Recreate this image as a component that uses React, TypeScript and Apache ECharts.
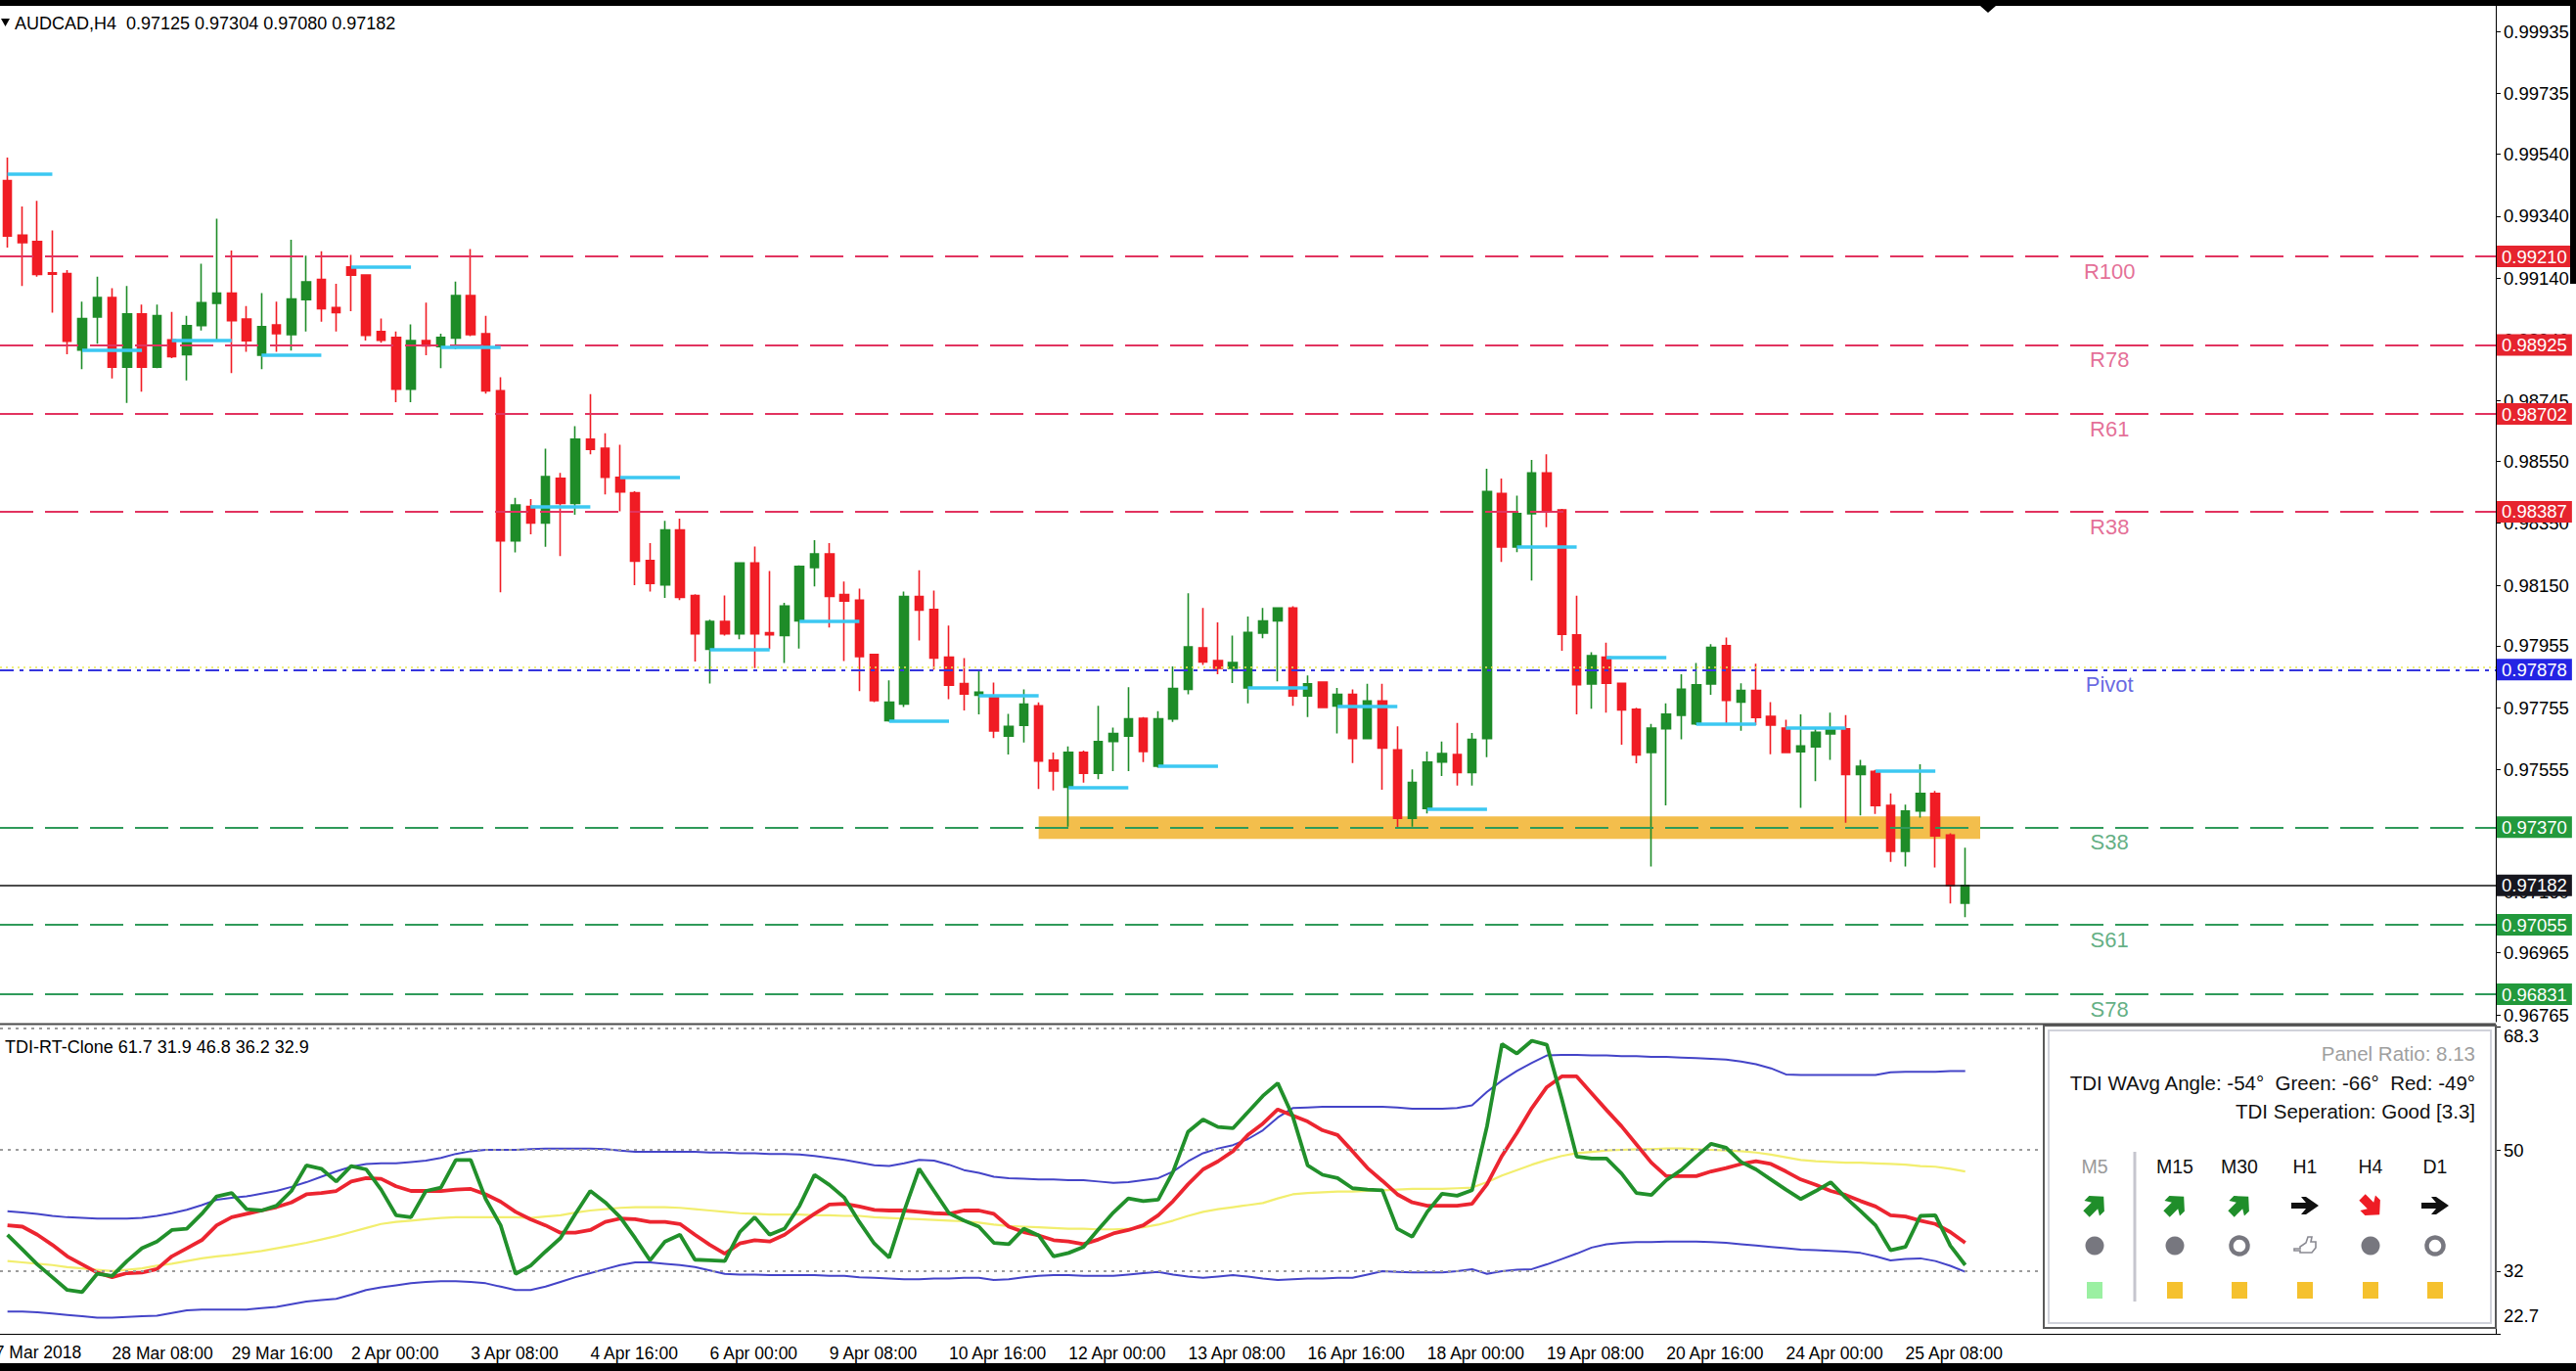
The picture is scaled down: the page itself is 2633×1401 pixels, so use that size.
import React, { useEffect, useRef } from "react";
import * as echarts from "echarts";

// ---------- price data (AUDCAD H4), candle 1..132 ----------
const opens = [0.99455,0.99279,0.99258,0.99157,0.99155,0.98908,0.99015,0.99078,0.98853,0.99025,
 0.98853,0.98941,0.98893,0.98987,0.99059,0.99092,0.99008,0.98892,0.98989,0.98958,
 0.99071,0.99136,0.99045,0.99176,0.99150,0.98968,0.98949,0.98782,0.98939,0.98919,
 0.98947,0.99084,0.98961,0.98777,0.98293,0.98404,0.98351,0.98495,0.98414,0.98621,
 0.98592,0.98498,0.98448,0.98230,0.98151,0.98328,0.98117,0.97944,0.98033,0.97993,
 0.98222,0.97997,0.97988,0.98035,0.98207,0.98251,0.98120,0.98102,0.97927,0.97713,
 0.97767,0.98114,0.98072,0.97918,0.97833,0.97795,0.97794,0.97664,0.97698,0.97761,
 0.97586,0.97499,0.97611,0.97544,0.97646,0.97664,0.97721,0.97567,0.97719,0.97814,
 0.97948,0.97907,0.97882,0.97819,0.97996,0.98035,0.98077,0.97793,0.97838,0.97761,
 0.97798,0.97656,0.97777,0.97619,0.97399,0.97430,0.97580,0.97604,0.97546,0.97656,
 0.98446,0.98273,0.98381,0.98512,0.98393,0.97990,0.97832,0.97918,0.97834,0.97750,
 0.97611,0.97687,0.97731,0.97703,0.97832,0.97955,0.97773,0.97811,0.97727,0.97689,
 0.97613,0.97629,0.97671,0.97687,0.97540,0.97550,0.97440,0.97292,0.97422,0.97479,
 0.97345,0.97125];
const highs = [0.99529,0.99371,0.99389,0.99294,0.99166,0.99064,0.99145,0.99108,0.99115,0.99055,
 0.99055,0.99031,0.99019,0.99187,0.99332,0.99229,0.99050,0.99092,0.99064,0.99264,
 0.99213,0.99227,0.99122,0.99215,0.99150,0.99010,0.98968,0.98991,0.99061,0.98961,
 0.99129,0.99234,0.99019,0.98821,0.98432,0.98428,0.98590,0.98512,0.98663,0.98766,
 0.98640,0.98603,0.98453,0.98286,0.98358,0.98365,0.98121,0.98039,0.98117,0.98222,
 0.98275,0.98196,0.98093,0.98214,0.98295,0.98286,0.98162,0.98139,0.97927,0.97843,
 0.98130,0.98198,0.98133,0.98020,0.97915,0.97875,0.97836,0.97735,0.97814,0.97772,
 0.97611,0.97630,0.97617,0.97761,0.97691,0.97821,0.97725,0.97744,0.97888,0.98124,
 0.98077,0.98030,0.97988,0.98049,0.98077,0.98077,0.98082,0.97859,0.97838,0.97819,
 0.97814,0.97832,0.97832,0.97695,0.97556,0.97614,0.97646,0.97706,0.97674,0.98526,
 0.98494,0.98439,0.98554,0.98572,0.98396,0.98116,0.97934,0.97965,0.97834,0.97755,
 0.97703,0.97769,0.97863,0.97899,0.97960,0.97981,0.97834,0.97897,0.97773,0.97716,
 0.97734,0.97692,0.97739,0.97731,0.97587,0.97555,0.97479,0.97443,0.97573,0.97487,
 0.97350,0.97304];
const lows = [0.99239,0.99115,0.99145,0.99029,0.98895,0.98847,0.98929,0.98817,0.98738,0.98774,
 0.98850,0.98882,0.98810,0.98971,0.98937,0.98834,0.98903,0.98847,0.98903,0.98907,
 0.98968,0.99000,0.98968,0.99034,0.98939,0.98932,0.98740,0.98740,0.98892,0.98850,
 0.98911,0.98953,0.98768,0.98127,0.98256,0.98314,0.98274,0.98244,0.98377,0.98572,
 0.98443,0.98388,0.98150,0.98130,0.98109,0.98102,0.97904,0.97833,0.97988,0.97976,
 0.97883,0.97944,0.97899,0.97946,0.98146,0.98014,0.97906,0.97809,0.97773,0.97710,
 0.97757,0.97972,0.97878,0.97783,0.97746,0.97734,0.97657,0.97604,0.97643,0.97493,
 0.97488,0.97372,0.97514,0.97525,0.97551,0.97551,0.97580,0.97562,0.97709,0.97798,
 0.97893,0.97863,0.97835,0.97769,0.97979,0.97840,0.97761,0.97725,0.97756,0.97672,
 0.97577,0.97656,0.97491,0.97367,0.97372,0.97414,0.97535,0.97504,0.97504,0.97596,
 0.98225,0.98257,0.98165,0.98337,0.97939,0.97734,0.97752,0.97739,0.97636,0.97576,
 0.97243,0.97440,0.97653,0.97699,0.97797,0.97703,0.97681,0.97699,0.97605,0.97611,
 0.97432,0.97518,0.97587,0.97384,0.97408,0.97413,0.97258,0.97243,0.97401,0.97240,
 0.97124,0.97080];
const closes = [0.99276,0.99255,0.99152,0.99153,0.98937,0.99010,0.99078,0.98853,0.99025,0.98853,
 0.99019,0.98887,0.98987,0.99061,0.99092,0.99003,0.98938,0.98984,0.98961,0.99073,
 0.99128,0.99042,0.99029,0.99150,0.98956,0.98940,0.98782,0.98939,0.98922,0.98949,
 0.99084,0.98958,0.98777,0.98293,0.98409,0.98351,0.98500,0.98414,0.98621,0.98588,
 0.98498,0.98451,0.98228,0.98156,0.98328,0.98111,0.97993,0.98033,0.97993,0.98222,
 0.97993,0.97990,0.98083,0.98211,0.98251,0.98114,0.98099,0.97920,0.97778,0.97773,
 0.98114,0.98070,0.97915,0.97828,0.97799,0.97805,0.97680,0.97695,0.97767,0.97583,
 0.97551,0.97611,0.97544,0.97646,0.97672,0.97719,0.97614,0.97719,0.97817,0.97951,
 0.97903,0.97882,0.97901,0.97998,0.98035,0.98077,0.97793,0.97832,0.97756,0.97798,
 0.97656,0.97777,0.97625,0.97399,0.97514,0.97580,0.97607,0.97546,0.97653,0.98452,
 0.98273,0.98381,0.98512,0.98389,0.97992,0.97829,0.97923,0.97834,0.97748,0.97603,
 0.97689,0.97734,0.97815,0.97829,0.97950,0.97779,0.97811,0.97724,0.97699,0.97611,
 0.97632,0.97676,0.97689,0.97540,0.97566,0.97440,0.97292,0.97422,0.97479,0.97342,
 0.97182,0.97182];

// ---------- TDI indicator ----------
const tdiGreen = [37.4,35.2,33.0,31.1,29.2,28.9,31.6,31.3,33.5,35.4,
 36.4,38.1,38.3,40.5,43.1,43.6,41.2,41.0,41.7,43.9,
 47.7,47.2,45.3,47.6,47.1,44.1,40.3,40.0,43.9,44.4,
 48.5,48.5,42.7,38.8,31.6,32.8,34.9,36.9,40.5,43.9,
 42.2,40.0,36.9,33.6,36.4,37.4,33.7,33.6,33.5,37.8,
 40.0,37.4,38.3,41.7,46.3,44.8,42.9,39.3,36.1,34.0,
 40.9,47.2,43.9,40.6,39.5,38.6,36.2,36.0,38.3,37.3,
 34.2,34.7,35.6,38.2,40.7,42.8,42.4,42.6,46.8,52.7,
 54.5,53.4,53.2,55.6,58.0,59.9,55.0,47.7,46.3,45.8,
 44.3,44.1,44.0,38.3,37.1,40.8,43.5,43.2,44.0,53.5,
 65.7,64.3,66.2,65.6,57.6,49.0,48.7,48.7,46.5,43.6,
 43.3,45.5,47.0,49.0,50.9,50.3,48.2,47.1,45.6,44.1,
 42.7,43.9,45.2,42.9,40.9,38.8,35.1,35.6,40.2,40.3,
 35.8,32.9];
const tdiRed = [38.8,38.6,37.4,35.9,34.2,33.0,31.8,31.1,31.7,31.8,
 32.3,34.2,35.4,36.6,38.8,40.0,40.5,41.0,41.5,42.2,
 43.4,43.6,43.9,45.3,45.8,45.7,44.6,43.9,43.9,43.9,
 44.1,44.2,43.4,42.3,40.8,39.7,38.8,37.7,37.7,38.1,
 39.3,39.8,39.7,39.3,39.3,39.0,37.4,35.9,34.6,36.1,
 36.6,36.4,37.4,39.0,40.5,41.9,42.0,41.6,41.1,41.0,
 41.0,40.8,40.6,40.5,41.0,41.0,40.5,38.6,37.8,37.3,
 36.6,36.4,36.0,36.7,37.6,38.1,38.8,40.3,42.4,44.9,
 47.1,48.3,49.8,52.2,53.9,56.0,55.1,54.2,52.9,52.2,
 49.8,47.3,45.4,43.4,42.2,41.7,41.7,41.7,42.0,44.9,
 49.1,52.5,56.2,59.3,60.9,60.9,58.4,55.9,53.5,50.8,
 48.1,46.1,46.1,46.1,46.8,47.3,47.9,48.3,47.9,46.8,
 45.6,44.8,43.9,43.3,42.4,41.6,40.3,40.1,39.5,39.0,
 37.8,36.2];
const tdiBase = [33.5,33.3,33.1,32.9,32.6,32.4,32.2,32.0,32.2,32.4,
 32.8,33.1,33.5,33.9,34.2,34.4,34.7,35.0,35.4,35.8,
 36.2,36.7,37.2,37.8,38.4,39.0,39.3,39.5,39.7,39.9,
 40.0,40.0,40.0,40.0,40.0,39.9,40.1,40.3,40.7,41.0,
 41.2,41.4,41.5,41.5,41.5,41.4,41.2,41.0,40.8,40.6,
 40.5,40.4,40.4,40.4,40.3,40.3,40.2,40.2,40.0,39.9,
 39.8,39.7,39.6,39.5,39.4,39.2,38.9,38.7,38.6,38.5,
 38.4,38.3,38.3,38.2,38.2,38.3,38.5,38.9,39.5,40.2,
 40.8,41.2,41.5,41.8,42.1,42.8,43.4,43.6,43.7,43.8,
 43.8,43.9,44.0,44.1,44.2,44.2,44.2,44.3,44.4,45.2,
 46.2,47.0,47.8,48.5,49.1,49.5,49.7,49.9,50.0,50.1,
 50.1,50.2,50.2,50.1,50.0,49.9,49.8,49.6,49.3,48.9,
 48.5,48.3,48.2,48.1,48.1,48.0,47.9,47.8,47.6,47.5,
 47.2,46.8];
const tdiUpper = [40.9,40.7,40.5,40.2,40.0,39.9,39.8,39.8,39.8,39.9,
 40.2,40.6,41.1,41.8,42.6,42.9,43.1,43.5,43.9,44.5,
 45.2,46.0,46.8,47.5,47.9,48.0,48.0,48.2,48.4,48.8,
 49.4,49.8,50.0,50.0,50.0,50.1,50.2,50.2,50.2,50.2,
 50.1,49.9,49.7,49.7,49.7,49.7,49.7,49.6,49.6,49.5,
 49.5,49.4,49.4,49.3,49.1,48.8,48.5,48.1,47.7,47.6,
 48.0,48.5,48.4,47.8,47.0,46.6,46.0,45.8,45.7,45.6,
 45.6,45.5,45.5,45.3,45.1,45.2,45.5,45.8,46.8,48.3,
 49.5,50.2,50.7,51.6,52.9,54.8,56.2,56.3,56.4,56.4,
 56.4,56.4,56.4,56.3,56.1,56.1,56.1,56.2,56.6,58.6,
 60.3,61.7,62.9,64.0,64.1,64.1,64.0,64.0,63.9,63.9,
 63.8,63.8,63.7,63.6,63.5,63.4,63.1,62.7,62.1,61.2,
 61.1,61.1,61.1,61.1,61.1,61.1,61.5,61.6,61.6,61.6,
 61.7,61.7];
const tdiLower = [26.0,26.0,25.9,25.7,25.5,25.3,25.1,25.1,25.2,25.3,
 25.4,25.8,26.2,26.3,26.3,26.3,26.3,26.5,26.7,27.1,
 27.5,27.7,27.9,28.5,29.2,29.6,29.9,30.2,30.4,30.5,
 30.5,30.4,30.2,29.7,29.2,29.2,29.7,30.4,31.1,31.7,
 32.3,32.9,33.3,33.3,33.1,32.9,32.6,32.1,31.6,31.5,
 31.5,31.4,31.4,31.4,31.4,31.3,31.3,31.1,31.0,30.9,
 30.8,30.8,30.9,30.9,31.0,31.0,30.7,30.8,31.1,31.3,
 31.4,31.4,31.3,31.3,31.3,31.5,31.7,31.9,31.5,31.2,
 31.0,31.2,31.4,31.2,30.9,30.7,30.8,30.9,30.9,31.0,
 31.0,31.5,32.0,31.9,31.8,31.8,31.8,32.0,32.3,31.6,
 32.0,32.2,32.3,33.0,33.8,34.6,35.5,36.0,36.2,36.3,
 36.3,36.4,36.4,36.4,36.3,36.2,36.0,35.8,35.6,35.4,
 35.2,35.1,35.0,34.9,34.7,34.2,33.6,33.8,33.9,33.5,
 32.8,31.9];
const tdiLevels = [68, 50, 32];
const tdiTicks = [68.3, 50, 32, 22.7];
const tdiMax = 68.3;
const tdiMin = 22.7;

// ---------- axes ----------
const totalSlots = 167;
const firstDateLabel = "27 Mar 2018";
const xTickLabels = ["28 Mar 08:00","29 Mar 16:00","2 Apr 00:00","3 Apr 08:00","4 Apr 16:00","6 Apr 00:00",
 "9 Apr 08:00","10 Apr 16:00","12 Apr 00:00","13 Apr 08:00","16 Apr 16:00","18 Apr 00:00",
 "19 Apr 08:00","20 Apr 16:00","24 Apr 00:00","25 Apr 08:00"];
const priceTicks = [0.99935,0.99735,0.99540,0.99340,0.99140,0.98940,0.98745,0.98550,0.98350,
 0.98150,0.97955,0.97755,0.97555,0.97360,0.97160,0.96965,0.96765];
const priceMin = 0.96743;
const priceMax = 1.00018;

// ---------- levels / objects ----------
const levelNames = ["R100","R78","R61","R38","Pivot","S38","S61","S78"];
const levelPrices = [0.99210,0.98925,0.98702,0.98387,0.97878,0.97370,0.97055,0.96831];
const currentPrice = 0.97182;
const midLevel = 0.97886;
const bandTop = 0.97405;
const bandBottom = 0.97332;
const bandFromCandle = 70;
const bandToCandle = 133;
const firstDayOpen = 0.99476;

// ---------- info panel ----------
const panelLines = ["Panel Ratio: 8.13", "TDI WAvg Angle: -54°\u00a0 Green: -66°\u00a0 Red: -49°", "TDI Seperation: Good [3.3]"];
const timeframes = ["M5","M15","M30","H1","H4","D1"];
const tfArrows = ["up","up","up","flat","down","flat"];
const tfMarks = ["dot","dot","ring","hand","dot","ring"];
const tfActive = [false,true,true,true,true,true];

echarts.graphic.registerShape("tfArrow", echarts.graphic.extendPath(
  "M-14,-3 L1,-3 L-4,-9 L1,-9 L14,0 L1,9 L-4,9 L1,3 L-14,3 Z", {}));
echarts.graphic.registerShape("tfArrowDiag", echarts.graphic.extendPath(
  "M-12,-4.5 L0,-4.5 L-4,-11 L3,-11 L13,0 L3,11 L-4,11 L0,4.5 L-12,4.5 Z", {}));
echarts.graphic.registerShape("tfHand", echarts.graphic.extendPath(
  "M-11,3 L-5,3 L-5,1 L1,-3 L3,-9 L7,-9 L6,-4 L11,-4 L11,2 L7,7 L-5,7 L-5,5 L-11,5 Z", {}));

const F = "'Liberation Sans', Arial, sans-serif";

function buildOption() {
  const cats = Array.from({ length: totalSlots }, (_, i) => String(i + 1));
  const showSlot = (i: number) => (i + 1) % 8 === 0 && (i + 1) / 8 <= xTickLabels.length;
  const candleData = opens.map((o, i) => [o, closes[i], lows[i], highs[i]]);

  const styleOf = (name: string) =>
    name === "Pivot"
      ? { line: "#3636de", box: "#2424e4", text: "#4141da", dash: [14, 6, 4, 6] }
      : name.startsWith("R")
      ? { line: "#e2335f", box: "#e6242e", text: "#dd4a7c", dash: [34, 12] }
      : { line: "#2f9a5a", box: "#22993c", text: "#3a9a64", dash: [34, 12] };

  const boxLabel = (p: number, bg: string) => ({
    show: true, position: "end", formatter: p.toFixed(5), color: "#fff", backgroundColor: bg,
    padding: [2, 5, 1, 5], fontSize: 18.5, fontFamily: F, distance: 1,
  });

  const levelLines: any[] = levelPrices.map((p, i) => {
    const st = styleOf(levelNames[i]);
    return { yAxis: p, lineStyle: { color: st.line, width: 2, type: st.dash }, label: boxLabel(p, st.box) };
  });
  levelLines.push({ yAxis: midLevel, lineStyle: { color: "#ecea55", width: 1.5, type: [2, 4] }, label: { show: false } });
  levelLines.push({ yAxis: currentPrice, lineStyle: { color: "#111", width: 1.5, type: "solid" }, label: boxLabel(currentPrice, "#17171f") });

  const dayLines: any[] = [[{ coord: [0, firstDayOpen] }, { coord: [3, firstDayOpen] }]];
  for (let n = 6; n + 4 <= opens.length; n += 6) {
    const p = opens[n - 1];
    dayLines.push([{ coord: [n - 1, p] }, { coord: [n + 3, p] }]);
  }

  const last = opens.length - 1;
  const headerText = `AUDCAD,H4\u00a0 ${opens[last].toFixed(5)} ${highs[last].toFixed(5)} ${lows[last].toFixed(5)} ${closes[last].toFixed(5)}`;
  const tdiHeader = `TDI-RT-Clone ${tdiUpper[last].toFixed(1)} ${tdiLower[last].toFixed(1)} ${tdiBase[last].toFixed(1)} ${tdiRed[last].toFixed(1)} ${tdiGreen[last].toFixed(1)}`;

  const colX = [2141, 2223, 2289, 2356, 2423, 2489];
  const panel: any[] = [
    { type: "rect", shape: { x: 2089, y: 1048, width: 462, height: 309 }, style: { fill: "#fff", stroke: "#5a5a5a", lineWidth: 2 }, z: 100 },
    { type: "rect", shape: { x: 2094, y: 1053, width: 452, height: 299 }, style: { fill: "none", stroke: "#d0d2da", lineWidth: 2 }, z: 101 },
    { type: "text", x: 2530, y: 1076, style: { text: panelLines[0], font: `20.5px ${F}`, fill: "#9f9f9f", align: "right", verticalAlign: "middle" }, z: 102 },
    { type: "text", x: 2530, y: 1106, style: { text: panelLines[1], font: `20.5px ${F}`, fill: "#111", align: "right", verticalAlign: "middle" }, z: 102 },
    { type: "text", x: 2530, y: 1135, style: { text: panelLines[2], font: `20.5px ${F}`, fill: "#111", align: "right", verticalAlign: "middle" }, z: 102 },
    { type: "line", shape: { x1: 2182, y1: 1177, x2: 2182, y2: 1330 }, style: { stroke: "#c6c6ce", lineWidth: 3 }, z: 102 },
  ];
  timeframes.forEach((tf, i) => {
    const x = colX[i];
    panel.push({ type: "text", x, y: 1192, style: { text: tf, font: `19.5px ${F}`, fill: tfActive[i] ? "#111" : "#9a9a9a", align: "center", verticalAlign: "middle" }, z: 102 });
    const a = tfArrows[i];
    if (a === "flat") {
      panel.push({ type: "tfArrow", x, y: 1232, style: { fill: "#111" }, z: 102 });
    } else {
      panel.push({ type: "tfArrowDiag", x, y: 1232, rotation: a === "up" ? Math.PI / 4 : -Math.PI / 4, scaleX: 1.0, scaleY: 1.0,
        style: { fill: a === "up" ? "#1f8e2a" : "#ee1c25" }, z: 102 });
    }
    const m = tfMarks[i];
    if (m === "dot") panel.push({ type: "circle", shape: { cx: x, cy: 1273, r: 9.5 }, style: { fill: "#77777f" }, z: 102 });
    else if (m === "ring") panel.push({ type: "circle", shape: { cx: x, cy: 1273, r: 8.5 }, style: { fill: "none", stroke: "#77777f", lineWidth: 4.5 }, z: 102 });
    else panel.push({ type: "tfHand", x, y: 1273, style: { fill: "#fff", stroke: "#8a8a92", lineWidth: 1.6 }, z: 102 });
    panel.push({ type: "rect", shape: { x: x - 8, y: 1310, width: 16, height: 17 }, style: { fill: tfActive[i] ? "#f5c12e" : "#9bf0a2" }, z: 102 });
  });

  return {
    animation: false,
    backgroundColor: "#fff",
    grid: [
      { left: 0, top: 6, width: 2551, height: 1038 },
      { left: 0, top: 1049, width: 2551, height: 314 },
    ],
    xAxis: [
      { type: "category", gridIndex: 0, data: cats, show: false, boundaryGap: true },
      {
        type: "category", gridIndex: 1, data: cats, boundaryGap: true,
        axisLine: { lineStyle: { color: "#000", width: 1 } },
        axisTick: { interval: (i: number) => showSlot(i), alignWithLabel: true, length: 6, lineStyle: { color: "#000" } },
        axisLabel: {
          interval: (i: number) => showSlot(i), align: "left", margin: 11, fontSize: 17.5, fontFamily: F, color: "#000",
          formatter: (_v: string, i: number) => (showSlot(i) ? xTickLabels[(i + 1) / 8 - 1] : ""),
        },
        splitLine: { show: false },
      },
    ],
    yAxis: [
      {
        type: "value", gridIndex: 0, position: "right", min: priceMin, max: priceMax,
        axisLine: { show: true, lineStyle: { color: "#000", width: 1 } },
        axisTick: { show: true, customValues: priceTicks, length: 5, lineStyle: { color: "#000" } },
        axisLabel: { customValues: priceTicks, formatter: (v: number) => v.toFixed(5), fontSize: 18.5, fontFamily: F, color: "#000", margin: 8 },
        splitLine: { show: false },
      },
      {
        type: "value", gridIndex: 1, position: "right", min: tdiMin, max: tdiMax,
        axisLine: { show: true, lineStyle: { color: "#000", width: 1 } },
        axisTick: { show: true, customValues: tdiTicks, length: 5, lineStyle: { color: "#000" } },
        axisLabel: { customValues: tdiTicks.filter((v) => v !== tdiMax && v !== tdiMin), formatter: (v: number) => String(v),
          fontSize: 18.5, fontFamily: F, color: "#000", margin: 8 },
        splitLine: { show: false },
      },
    ],
    series: [
      {
        type: "line", name: "band", xAxisIndex: 0, yAxisIndex: 0, data: [], z: 1, silent: true,
        markArea: { silent: true, itemStyle: { color: "#f2bb42", opacity: 0.95 },
          data: [[{ coord: [bandFromCandle - 1, bandTop] }, { coord: [bandToCandle - 1, bandBottom] }]] },
      },
      {
        type: "candlestick", name: "AUDCAD", xAxisIndex: 0, yAxisIndex: 0, data: candleData, z: 2, barWidth: 9, silent: true,
        itemStyle: { color: "#1e8c28", color0: "#f01c24", borderColor: "#1e8c28", borderColor0: "#f01c24", borderWidth: 1.6 },
      },
      {
        type: "line", name: "levels", xAxisIndex: 0, yAxisIndex: 0, data: [], z: 3, silent: true,
        markLine: { silent: true, symbol: "none", precision: 5, data: levelLines },
      },
      {
        type: "line", name: "dayOpen", xAxisIndex: 0, yAxisIndex: 0, data: [], z: 4, silent: true,
        markLine: { silent: true, symbol: "none", precision: 5, label: { show: false }, lineStyle: { color: "#3cc8f2", width: 3.5, type: "solid" }, data: dayLines },
      },
      {
        type: "scatter", name: "levelText", xAxisIndex: 0, yAxisIndex: 0, z: 5, silent: true, symbolSize: 1,
        itemStyle: { color: "rgba(0,0,0,0)" },
        data: levelPrices.map((p, i) => ({ value: [140, p], label: { color: styleOf(levelNames[i]).text } })),
        label: { show: true, position: "bottom", distance: 4, offset: [10, 0], fontSize: 22, fontFamily: F,
          formatter: (pa: any) => levelNames[pa.dataIndex] },
      },
      {
        type: "line", name: "upper", xAxisIndex: 1, yAxisIndex: 1, data: tdiUpper, symbol: "none", z: 2, silent: true,
        lineStyle: { color: "#4444c8", width: 2 },
        markLine: { silent: true, symbol: "none", precision: 1, label: { show: false }, lineStyle: { color: "#9c9c9c", width: 2, type: [3, 5] },
          data: tdiLevels.map((v) => ({ yAxis: v })) },
      },
      { type: "line", name: "lower", xAxisIndex: 1, yAxisIndex: 1, data: tdiLower, symbol: "none", z: 2, silent: true, lineStyle: { color: "#4444c8", width: 2 } },
      { type: "line", name: "base", xAxisIndex: 1, yAxisIndex: 1, data: tdiBase, symbol: "none", z: 3, silent: true, lineStyle: { color: "#f2ee6e", width: 2.2 } },
      { type: "line", name: "signal", xAxisIndex: 1, yAxisIndex: 1, data: tdiRed, symbol: "none", z: 4, silent: true, lineStyle: { color: "#ec2530", width: 3.8 } },
      { type: "line", name: "rsi", xAxisIndex: 1, yAxisIndex: 1, data: tdiGreen, symbol: "none", z: 5, silent: true, lineStyle: { color: "#21902b", width: 3.8 } },
    ],
    graphic: [
      { type: "rect", shape: { x: 0, y: 0, width: 2633, height: 6 }, style: { fill: "#000" }, z: 100 },
      { type: "rect", shape: { x: 2627, y: 0, width: 6, height: 290 }, style: { fill: "#000" }, z: 100 },
      { type: "rect", shape: { x: 0, y: 1393, width: 2633, height: 8 }, style: { fill: "#000" }, z: 100 },
      { type: "polygon", shape: { points: [[2024, 6], [2040, 6], [2032, 13]] }, style: { fill: "#000" }, z: 100 },
      { type: "polygon", shape: { points: [[1, 19], [10, 19], [5.5, 27]] }, style: { fill: "#000" }, z: 100 },
      { type: "text", x: 15, y: 24, style: { text: headerText, font: `18px ${F}`, fill: "#000", verticalAlign: "middle" }, z: 100 },
      { type: "text", x: 5, y: 1070, style: { text: tdiHeader, font: `18px ${F}`, fill: "#000", verticalAlign: "middle" }, z: 100 },
      { type: "line", shape: { x1: 0, y1: 1046.5, x2: 2551, y2: 1046.5 }, style: { stroke: "#4a4a4a", lineWidth: 2 }, z: 100 },
      { type: "text", x: -15, y: 1382, style: { text: firstDateLabel, font: `17.5px ${F}`, fill: "#000", verticalAlign: "middle" }, z: 100 },
      { type: "text", x: 2559, y: 1058, style: { text: String(tdiMax), font: `18.5px ${F}`, fill: "#000", verticalAlign: "middle" }, z: 100 },
      { type: "text", x: 2559, y: 1344, style: { text: String(tdiMin), font: `18.5px ${F}`, fill: "#000", verticalAlign: "middle" }, z: 100 },
      ...panel,
    ],
  };
}

export default function App() {
  const ref = useRef<HTMLDivElement>(null);
  useEffect(() => {
    if (!ref.current) return;
    const chart = echarts.init(ref.current, null, { renderer: "svg" });
    chart.setOption(buildOption() as any);
    return () => chart.dispose();
  }, []);
  return <div ref={ref} style={{ position: "fixed", left: 0, top: 0, width: 2633, height: 1401, background: "#fff" }} />;
}
